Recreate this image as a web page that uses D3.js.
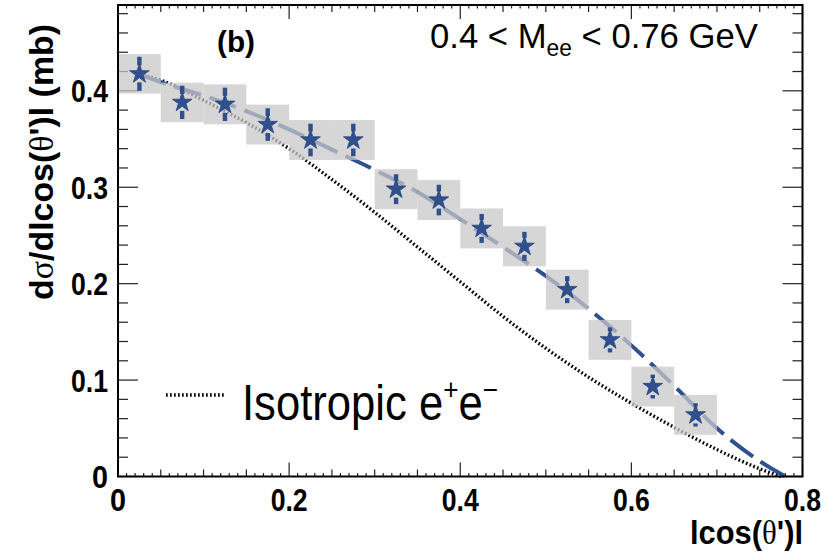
<!DOCTYPE html>
<html>
<head>
<meta charset="utf-8">
<script src="https://cdn.jsdelivr.net/npm/d3@7/dist/d3.min.js"></script>
<style>
  html, body { margin: 0; padding: 0; background: #fff; }
  svg { display: block; }
  text { font-family: "Liberation Sans", Arial, Helvetica, sans-serif; fill: #000; }
</style>
</head>
<body>
<svg id="chart" width="821" height="552"></svg>
<script>
// ---------------- data ----------------
const binCenters = [0.025, 0.075, 0.125, 0.175, 0.225, 0.275, 0.325, 0.375, 0.425, 0.475, 0.525, 0.575, 0.625, 0.675];
const binHalfWidth = 0.025;
const values   = [0.4176, 0.388, 0.386, 0.365, 0.349, 0.349, 0.298, 0.2867, 0.2573, 0.2387, 0.1938, 0.1417, 0.0933, 0.0639];
const statErr  = [0.0177, 0.0173, 0.0173, 0.0169, 0.0169, 0.0169, 0.0155, 0.0159, 0.0150, 0.0150, 0.0140, 0.0130, 0.0124, 0.0121];
const sysErr   = [0.0205, 0.0205, 0.0207, 0.0207, 0.0207, 0.0207, 0.0207, 0.0207, 0.0207, 0.0207, 0.0207, 0.0207, 0.0207, 0.0207];

const fitX = [0.025, 0.05, 0.1, 0.15, 0.2, 0.25, 0.3, 0.35, 0.4, 0.45, 0.5, 0.55, 0.6, 0.65, 0.7, 0.75, 0.78];
const fitY = [0.417, 0.409, 0.395, 0.379, 0.360, 0.339, 0.318, 0.295, 0.267, 0.238, 0.208, 0.174, 0.136, 0.094, 0.050, 0.016, 0.0];

const isoX = [0.025, 0.05, 0.1, 0.15, 0.2, 0.25, 0.3, 0.35, 0.4, 0.45, 0.5, 0.55, 0.6, 0.65, 0.7, 0.75, 0.775];
const isoY = [0.417, 0.411, 0.390, 0.367, 0.340, 0.308, 0.274, 0.238, 0.202, 0.166, 0.133, 0.103, 0.076, 0.051, 0.028, 0.008, 0.0];

const xTickLabels = ["0", "0.2", "0.4", "0.6", "0.8"];
const yTickLabels = ["0", "0.1", "0.2", "0.3", "0.4"];
const xDomain = [0, 0.8];
const yDomain = [0, 0.489];

// ---------------- layout ----------------
const svg = d3.select("#chart");
const L = 118, R = 802.5, T = 5, B = 476.5;
const x = d3.scaleLinear().domain(xDomain).range([L, R]);
const y = d3.scaleLinear().domain(yDomain).range([B, T]);

const blue = "#2f4f8e";

function fit(sel, w) {
  sel.each(function() {
    const t = d3.select(this).select("text").node();
    const len = t.getComputedTextLength();
    const g = d3.select(this);
    g.attr("transform", g.attr("data-t") + ` scale(${w / len},1)`);
  });
}
function textGroup(parent, tr) {
  return parent.append("g").attr("data-t", tr).attr("transform", tr);
}

// ---------------- ticks (under boxes) ----------------
const ticks = svg.append("g").attr("stroke", "#222").attr("stroke-width", 1.2).attr("fill", "none");
const yMajor = d3.range(0, 0.4001, 0.1);
const yMinor = d3.range(0, 0.489, 0.02).filter(v => Math.abs(v / 0.1 - Math.round(v / 0.1)) > 1e-6);
yMajor.forEach(v => {
  ticks.append("line").attr("x1", L).attr("x2", L + 20).attr("y1", y(v)).attr("y2", y(v));
  ticks.append("line").attr("x1", R).attr("x2", R - 20).attr("y1", y(v)).attr("y2", y(v));
});
yMinor.forEach(v => {
  ticks.append("line").attr("x1", L).attr("x2", L + 10).attr("y1", y(v)).attr("y2", y(v));
  ticks.append("line").attr("x1", R).attr("x2", R - 10).attr("y1", y(v)).attr("y2", y(v));
});
const xAll = d3.range(0, 0.8001, 0.01);
xAll.forEach(v => {
  const k = Math.round(v * 100);
  let len = 3.5;
  if (k % 20 === 0) len = 14; else if (k % 5 === 0) len = 7;
  ticks.append("line").attr("x1", x(v)).attr("x2", x(v)).attr("y1", B).attr("y2", B - len);
  ticks.append("line").attr("x1", x(v)).attr("x2", x(v)).attr("y1", T).attr("y2", T + len);
});

// ---------------- curves ----------------
const lineGen = d3.line().x(d => x(d[0])).y(d => y(d[1])).curve(d3.curveMonotoneX);
svg.append("path")
  .datum(isoX.map((v, i) => [v, isoY[i]]))
  .attr("d", lineGen)
  .attr("fill", "none").attr("stroke", "#000").attr("stroke-width", 3.4)
  .attr("stroke-dasharray", "1.7,2.3");
svg.append("path")
  .datum(fitX.map((v, i) => [v, fitY[i]]))
  .attr("d", lineGen)
  .attr("fill", "none").attr("stroke", blue).attr("stroke-width", 4)
  .attr("stroke-dasharray", "28,9");

// ---------------- systematic boxes ----------------
svg.append("g").selectAll("rect").data(binCenters).join("rect")
  .attr("x", d => x(d - binHalfWidth))
  .attr("width", d => x(d + binHalfWidth) - x(d - binHalfWidth))
  .attr("y", (d, i) => y(values[i] + sysErr[i]))
  .attr("height", (d, i) => y(values[i] - sysErr[i]) - y(values[i] + sysErr[i]))
  .attr("fill", "#c8c8c8").attr("fill-opacity", 0.74);

// ---------------- stat error bars ----------------
const gap = 8.5;
const eb = svg.append("g").attr("fill", blue);
binCenters.forEach((c, i) => {
  const yc = y(values[i]);
  const yt = y(values[i] + statErr[i]);
  const yb = y(values[i] - statErr[i]);
  if (yc - gap > yt) eb.append("rect").attr("x", x(c) - 2.2).attr("width", 4.4).attr("y", yt).attr("height", yc - gap - yt);
  if (yb > yc + gap) eb.append("rect").attr("x", x(c) - 2.2).attr("width", 4.4).attr("y", yc + gap).attr("height", yb - yc - gap);
});

// ---------------- star markers ----------------
const star = d3.symbol().type(d3.symbolStar).size(120);
svg.append("g").selectAll("path").data(binCenters).join("path")
  .attr("transform", (d, i) => `translate(${x(d)},${y(values[i])})`)
  .attr("d", star)
  .attr("fill", blue).attr("stroke", "#26467f").attr("stroke-width", 0.8);

// ---------------- frame ----------------
svg.append("rect").attr("x", L).attr("y", T).attr("width", R - L).attr("height", B - T)
  .attr("fill", "none").attr("stroke", "#000").attr("stroke-width", 2);

// ---------------- tick labels ----------------
const tl = svg.append("g");
yTickLabels.forEach((s, i) => {
  const v = i * 0.1;
  const g = textGroup(tl, `translate(108,${y(v) + 11.5})`);
  g.append("text").attr("text-anchor", "end").attr("font-weight", "bold").attr("font-size", 32).text(s);
  fit(g, s.length === 1 ? 16 : 37);
});
xTickLabels.forEach((s, i) => {
  const v = i * 0.2;
  const g = textGroup(tl, `translate(${x(v)},511)`);
  g.append("text").attr("text-anchor", "middle").attr("font-weight", "bold").attr("font-size", 32).text(s);
  fit(g, s.length === 1 ? 16 : 37);
});

// ---------------- axis titles ----------------
const xt = textGroup(svg, "translate(803,544)");
const xtt = xt.append("text").attr("text-anchor", "end").attr("font-weight", "bold").attr("font-size", 34);
xtt.append("tspan").text("lcos(");
xtt.append("tspan").attr("font-family", "'Liberation Serif', serif").attr("font-weight", "normal").text("θ");
xtt.append("tspan").text("')l");
fit(xt, 113);

const yt = textGroup(svg, "translate(53,24) rotate(-90)");
const ytt = yt.append("text").attr("text-anchor", "end").attr("font-weight", "bold").attr("font-size", 33);
ytt.append("tspan").text("d");
ytt.append("tspan").attr("font-family", "'Liberation Serif', serif").attr("font-weight", "normal").text("σ");
ytt.append("tspan").text("/dlcos(");
ytt.append("tspan").attr("font-family", "'Liberation Serif', serif").attr("font-weight", "normal").text("θ");
ytt.append("tspan").text("')l (mb)");
fit(yt, 276);

// ---------------- annotations ----------------
const lb = textGroup(svg, "translate(217,52)");
lb.append("text").attr("font-weight", "bold").attr("font-size", 30).text("(b)");
fit(lb, 38);

const mg = textGroup(svg, "translate(430,48)");
const mt = mg.append("text").attr("font-size", 35);
mt.append("tspan").text("0.4 < M");
mt.append("tspan").attr("font-size", 23).attr("dy", 8).text("ee");
mt.append("tspan").attr("dy", -8).text(" < 0.76 GeV");
fit(mg, 328);

// ---------------- legend ----------------
svg.append("line").attr("x1", 166).attr("x2", 225).attr("y1", 395).attr("y2", 395)
  .attr("stroke", "#000").attr("stroke-width", 3.4).attr("stroke-dasharray", "1.7,2.3");
const lg = textGroup(svg, "translate(242,420)");
const lt = lg.append("text").attr("font-size", 50);
lt.append("tspan").text("Isotropic e");
lt.append("tspan").attr("font-size", 30).attr("dy", -20).text("+");
lt.append("tspan").attr("dy", 20).text("e");
lt.append("tspan").attr("font-size", 30).attr("dy", -20).text("−");
fit(lg, 256);
</script>
</body>
</html>
